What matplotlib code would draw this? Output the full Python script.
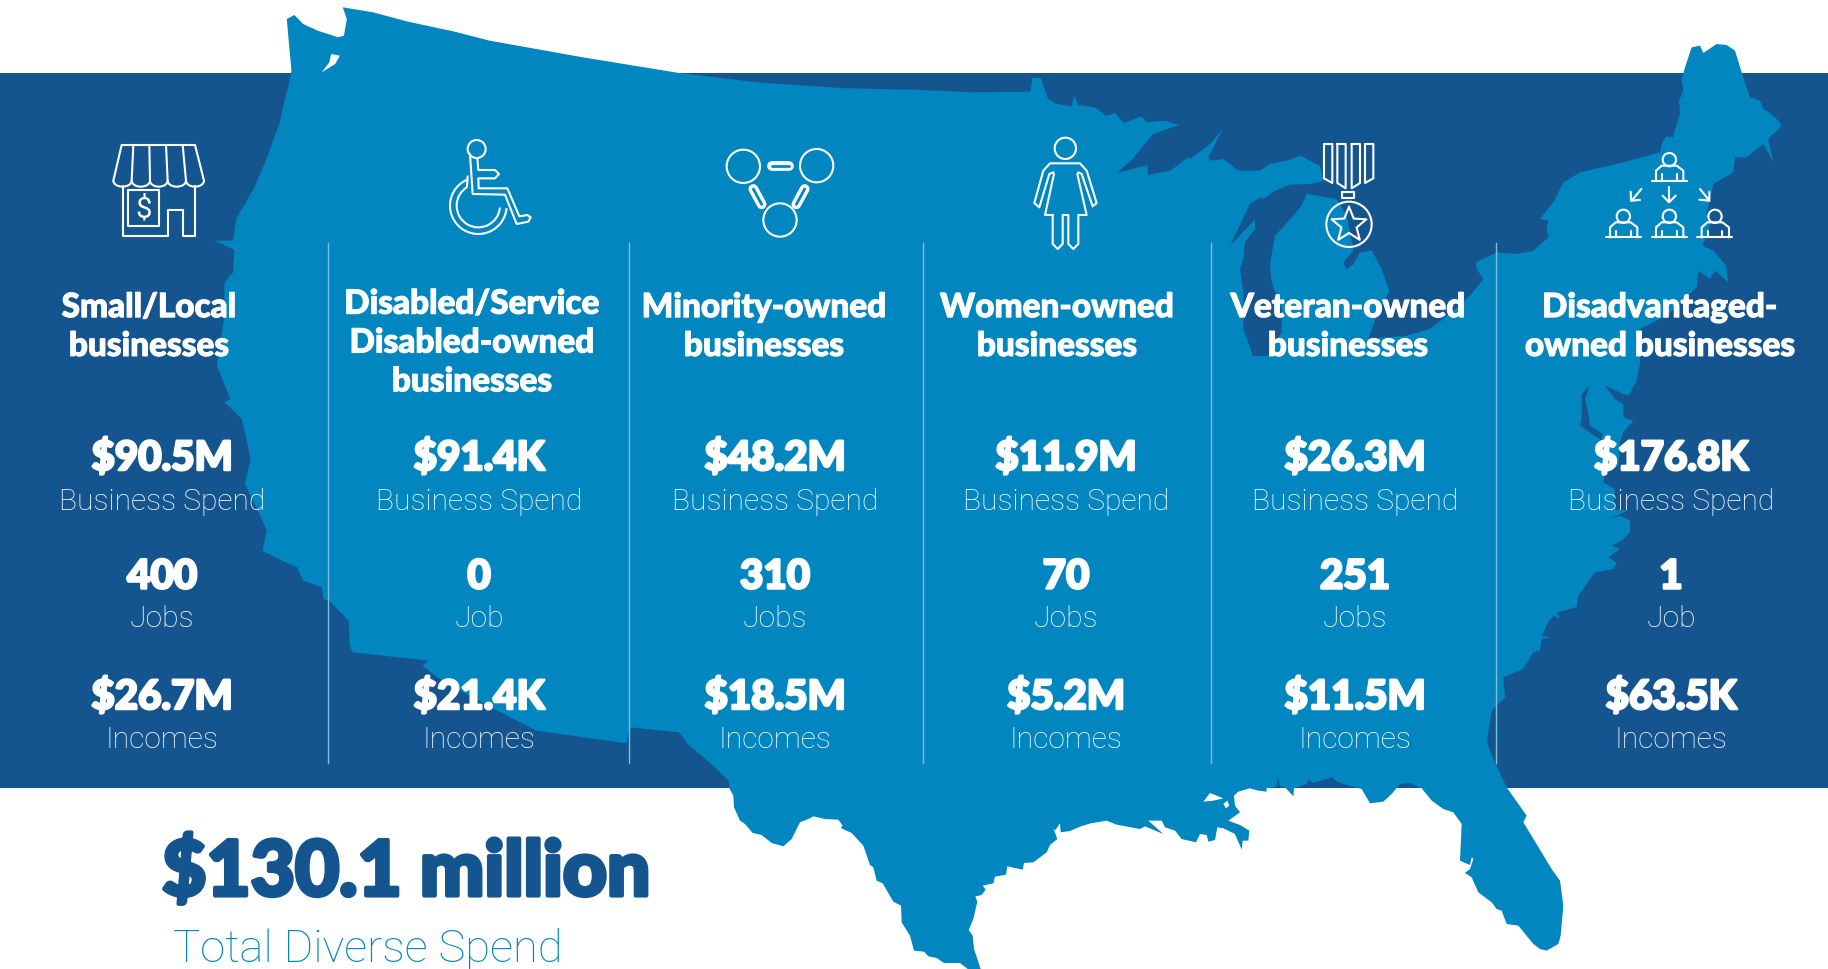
import numpy as np
import matplotlib
matplotlib.use("Agg")
import matplotlib.pyplot as plt
from matplotlib.patches import Circle, Arc, Polygon, Rectangle
import matplotlib.patheffects as pe

# chart values
categories = ["Small/Local\nbusinesses", "Disabled/Service\nDisabled-owned\nbusinesses",
              "Minority-owned\nbusinesses", "Women-owned\nbusinesses",
              "Veteran-owned\nbusinesses", "Disadvantaged-\nowned businesses"]
spend = ["$90.5M", "$91.4K", "$48.2M", "$11.9M", "$26.3M", "$176.8K"]
jobs = ["400", "0", "310", "70", "251", "1"]
job_labels = ["Jobs", "Job", "Jobs", "Jobs", "Jobs", "Job"]
incomes = ["$26.7M", "$21.4K", "$18.5M", "$5.2M", "$11.5M", "$63.5K"]
total = "$130.1 million"
total_label = "Total Diverse Spend"

# layout, in pixels of the 1828x970 picture
num_x = [162, 479, 775, 1066, 1355, 1671]
head_x = [149, 472, 764, 1057, 1348, 1660]
head_y = [328, 344, 328, 328, 328, 328]
divider_x = [328, 629, 923, 1211, 1496]

DARK = "#14558f"
BLUE = "#0286c0"
HEAVY = ["Lato", "DejaVu Sans"]
LIGHT = ["Roboto", "DejaVu Sans"]

west_coast = [(588,25),(595,60),(590,110),(580,115),(545,95),(520,75),(505,48),(492,60),(495,120),
              (500,215),(495,260),(490,290),(480,370),(455,490),(435,570),(405,660),(400,725),(368,725),
              (402,752),(400,820),(385,850),(385,950),(372,1100),(395,1200),(385,1210),(415,1260),
              (420,1300),(430,1380),(420,1455)]
border = [(445,90),(458,140),(450,200),(490,235),(510,250),(520,290),(552,310),(555,345),(565,350),
          (598,410),(600,485),(605,505),(735,530),(725,545),(750,580),(810,640),(870,695),(920,740),
          (1075,778),(1080,730),(1165,745),(1180,780),(1220,840),(1250,890)]
texas = [(88,88),(100,110),(102,145),(120,185),(135,195),(158,222),(185,228),(215,252),(250,262),
         (275,240),(300,190),(330,178),(340,172),(375,180),(415,182),(428,200),(422,207),(455,222),
         (490,260),(510,318),(520,325),(530,365),(548,373),(580,428),(603,440),(605,490),(630,530),
         (642,575),(672,578),(685,592),(710,597),(732,612),(780,612),(803,630),(842,630),(822,570),
         (818,530),(806,513),(820,480),(832,428),(826,412),(845,408),(857,392),(848,380),(880,373),
         (885,353),(918,347),(922,322),(968,332),(972,312),(1000,310),(1040,280),(1050,258),(1072,240),
         (1060,208),(1065,215),(1080,193),(1082,220),(1110,216),(1140,203),(1172,193),(1220,185),
         (1250,197),(1320,210),(1335,202),(1390,225),(1345,185),(1385,185),(1395,205)]
florida = [(15,215),(35,240),(78,250),(90,225),(110,228),(115,248),(135,243),(142,205),(160,208),(195,225),
           (215,272),(218,245),(235,245),(238,215),(210,198),(175,185),(210,160),(195,140),(192,110),(205,98),
           (240,88),(265,95),(290,98),(290,87),(320,85),(322,50),(330,82),(345,85),(370,112),(372,88),(410,75),
           (415,60),(430,72),(485,55),(505,70),(545,82),(575,90),(600,133),(640,128),(665,105),(690,75),(720,72),
           (755,88),(785,125),(820,150),(850,160),(875,195),(870,305),(900,318),(905,295),(910,300),(900,330),
           (885,342),(905,355),(925,400),(965,430),(980,450),(995,455),(1010,495),(1045,500),(1090,555),(1110,570),
           (1130,575),(1165,555),(1172,530),(1180,440),(1170,365),(1145,330),(1060,190),(1070,170),(1010,85),(975,10),
           (950,-50),(965,-145),(1005,-185)]
atlantic = [(70,1015),(130,990),(160,940),(180,935),(185,900),(210,895),(185,890),(205,850),(220,830),(240,840),
            (230,820),(290,805),(295,770),(330,720),(345,700),(400,690),(410,670),(385,655),(420,630),(395,620),
            (425,605),(450,580),(450,545),(420,530),(385,540),(445,515),(400,510),(405,450),(370,430),(375,405),
            (415,380),(420,310),(430,280),(460,245),(430,235),(430,195),(405,180),(375,140),(430,165),(445,170),
            (470,125),(480,70),(480,55)]
new_england = [(470,905),(560,860),(650,775),(655,725),(690,750),(705,725),(745,760),(738,710),(700,665),(668,650),
               (690,590),(680,555),(690,510),(700,465),(760,430),(765,385),(800,385),(850,345),(880,400),(865,330),
               (905,290),(890,270),(865,248),(850,240),(840,215),(810,205),(785,130),(765,65),(740,48),(710,45),
               (670,72),(660,50),(635,55),(615,115),(605,150),(610,185),(597,215),(600,255),(585,300),(580,325),
               (558,322),(545,345),(540,370),(410,405),(300,430),(250,460),(220,520),(180,570),(205,575),(200,600),
               (205,625),(160,665),(110,675),(50,670)]
lakes = [(900,410),(858,430),(860,450),(880,480),(840,530),(790,575),(720,630),(650,650),(535,660),(555,605),
         (598,515),(575,450),(545,395),(510,400),(490,435),(470,452),(460,430),(490,395),(480,340),(470,290),(440,240),
         (350,225),(335,260),(310,290),(255,350),(240,435),(245,490),(275,570),(275,640),(235,710),(190,712),
         (160,630),(160,520),(150,450),(160,420),(165,370),(195,330),(195,302),(120,380),(180,255),(210,235),
         (220,240),(255,215),(300,197),(362,195),(400,185),(390,140),(330,110),(290,125),(240,135),(210,155),
         (145,155),(100,120),(60,125),(55,115),(98,30),(60,75),(35,95),(0,120)]
minnesota = [(470,475),(440,515),(402,528),(400,498),(348,522),(375,480),(410,405),(455,378),(430,365),(400,370),
             (390,352),(360,372),(345,342),(330,350),(310,325),(282,318),(275,290),(270,322),(245,315),(230,300),
             (218,238),(203,235),(200,278),(100,280),(0,272)]
north_border = [(1568,272),(1450,268),(1300,250),(1165,222),(1000,175),(840,125),(780,98),(700,68),(640,40)]
puget = [(568,165),(583,170),(575,195),(552,220),(565,190)]
pontchartrain = [(100,128),(120,102),(160,118),(130,125)]
pond = [(160,135),(172,125),(178,140),(168,148)]
chesapeake = [(330,140),(305,165),(305,240),(300,260),(365,305),(368,285),(330,260),(325,225),(315,180)]


def half(points, x0, y0):
    # crops of 914x485 came back stretched, x and y scale differ
    return [(x0 + x / 1.7155, y0 + y / 3) for x, y in points]


def third(points, x0, y0):
    return [(x0 + x / 3, y0 + y / 3) for x, y in points]


fig = plt.figure(figsize=(18.28, 9.7), dpi=100)
ax = fig.add_axes([0, 0, 1, 1])
ax.set_xlim(0, 1828)
ax.set_ylim(970, 0)
ax.axis("off")

ax.add_patch(Rectangle((0, 74), 1828, 715, color=DARK, lw=0, zorder=1))

outline = (half(west_coast, 0, 0) + half(border, 0, 485) + third(texas, 700, 760) + third(florida, 1170, 760)
           + third(atlantic, 1480, 340) + third(new_england, 1480, 30) + third(lakes, 1190, 120)
           + half(minnesota, 914, 0) + half(north_border, 0, 0))
ax.add_patch(Polygon(outline, closed=True, color=BLUE, lw=0, zorder=2))
ax.add_patch(Polygon(half(puget, 0, 0), closed=True, color="white", lw=0, zorder=3))
ax.add_patch(Polygon(third(pontchartrain, 1170, 760), closed=True, color="white", lw=0, zorder=3))
ax.add_patch(Polygon(third(pond, 1170, 760), closed=True, color="white", lw=0, zorder=3))
ax.add_patch(Polygon(third(chesapeake, 1480, 340), closed=True, color=DARK, lw=0, zorder=3))

for x in divider_x:
    ax.plot([x, x], [244, 764], color="#7fbfdc", lw=1.0, zorder=3)

# icons
LW = 1.5


def stroke(points, x0, y0, closed=False, lw=LW):
    pts = third(points, x0, y0)
    if closed:
        pts = pts + pts[:1]
    xs = [p[0] for p in pts]
    ys = [p[1] for p in pts]
    ax.plot(xs, ys, color="white", lw=lw, solid_joinstyle="round", solid_capstyle="round", zorder=5)


def ring(cx, cy, r, x0, y0):
    ax.add_patch(Circle((x0 + cx / 3, y0 + cy / 3), r / 3, fill=False, ec="white", lw=LW, zorder=5))


def capsule(p, q, x0, y0, back):
    stroke([p, q], x0, y0, lw=7.0)
    pts = third([p, q], x0, y0)
    ax.plot([pts[0][0], pts[1][0]], [pts[0][1], pts[1][1]], color=back, lw=2.0, solid_capstyle="round", zorder=6)


# shop
sx, sy = 100, 130
stroke([(40,155),(65,48),(285,48),(312,155)], sx, sy)
for top, bottom in zip([100, 148, 198, 248], [95, 150, 203, 258]):
    stroke([(top,48),(bottom,155)], sx, sy)
for a, b in zip([40, 95, 150, 203, 258], [95, 150, 203, 258, 312]):
    ax.add_patch(Arc((sx + (a + b) / 6, sy + 155 / 3), (b - a) / 3, 36 / 3, theta1=0, theta2=180,
                     ec="white", lw=LW, zorder=5))
stroke([(68,172),(68,320),(205,320),(205,243),(248,243),(248,320),(285,320),(285,172)], sx, sy)
stroke([(85,182),(178,182),(178,292),(85,292)], sx, sy, closed=True)
ax.text(sx + 130 / 3, sy + 237 / 3, "$", color="white", fontsize=21, family=LIGHT, weight="regular",
        ha="center", va="center", zorder=5)

# wheelchair
stroke([(1110,75),(1118,195),(1215,197),(1250,285),(1285,278),(1292,265),(1282,258),(1258,262),
        (1222,178),(1136,178),(1135,148),(1185,148),(1197,135),(1185,123),(1135,123),(1132,88)], sx, sy)
ring(1130, 60, 27, sx, sy)
wheel_x, wheel_y = sx + 1135 / 3, sy + 230 / 3
ax.add_patch(Arc((wheel_x, wheel_y), 170 / 3, 170 / 3, theta1=5, theta2=248, ec="white", lw=LW, zorder=5))
ax.add_patch(Arc((wheel_x, wheel_y), 130 / 3, 130 / 3, theta1=5, theta2=239, ec="white", lw=LW, zorder=5))
stroke([(1103,142),(1101,172)], sx, sy)

# network
nx, ny = 700, 130
for cx, cy in [(130, 112), (350, 110), (240, 273)]:
    ring(cx, cy, 50, nx, ny)
capsule((215,112), (267,112), nx, ny, BLUE)
capsule((160,180), (185,226), nx, ny, BLUE)
capsule((314,180), (289,226), nx, ny, BLUE)

# woman
ring(1096, 58, 32, nx, ny)
stroke([(1058,258),(1058,345),(1073,360),(1088,345),(1088,258),(1105,258),(1105,345),(1120,360),(1135,345),
        (1135,258),(1160,258),(1132,135),(1135,130),(1145,135),(1178,232),(1190,222),(1160,125),(1140,103),
        (1050,103),(1030,125),(1003,222),(1018,235),(1048,135),(1060,130),(1062,135),(1035,258)], nx, ny, closed=True)

# medal
mx, my = 1300, 130
for strip in [[(72,45),(97,45),(97,162),(72,148)], [(112,45),(137,45),(137,178),(112,162)],
              [(155,45),(180,45),(180,162),(155,178)], [(195,45),(220,45),(220,148),(195,162)]]:
    stroke(strip, mx, my, closed=True)
stroke([(127,188),(162,188),(162,206),(127,206)], mx, my, closed=True)
ring(147, 286, 68, mx, my)
angles = np.deg2rad(np.arange(-90, 270, 36))
radii = np.where(np.arange(10) % 2 == 0, 55, 24)
stroke(list(zip(147 + radii * np.cos(angles), 288 + radii * np.sin(angles))), mx, my, closed=True)

# people
for dx, dy in [(0, 0), (-138, 170), (0, 170), (137, 170)]:
    ring(1108 + dx, 92 + dy, 20, mx, my)
    stroke([(1068+dx,155+dy),(1068+dx,125+dy),(1085+dx,110+dy),(1130+dx,110+dy),(1150+dx,125+dy),(1150+dx,155+dy)], mx, my)
    stroke([(1055+dx,155+dy),(1160+dx,155+dy)], mx, my)
    stroke([(1086+dx,135+dy),(1086+dx,155+dy)], mx, my)
    stroke([(1130+dx,135+dy),(1130+dx,155+dy)], mx, my)
stroke([(1107,175),(1107,220)], mx, my)
stroke([(1088,200),(1107,220),(1127,200)], mx, my)
stroke([(1024,180),(995,215)], mx, my)
stroke([(992,188),(993,215),(1020,213)], mx, my)
stroke([(1200,180),(1228,215)], mx, my)
stroke([(1198,212),(1228,215),(1228,188)], mx, my)


# text
def heavy(x, y, s, size, edge, color="white"):
    ax.text(x, y, s, color=color, fontsize=size, family=HEAVY, weight="black", ha="center", va="center",
            linespacing=1.41, zorder=7,
            path_effects=[pe.withStroke(linewidth=edge, foreground=color)])


def thin(x, y, s, size=21.6, color="white"):
    ax.text(x, y, s, color=color, fontsize=size, family=LIGHT, weight="light", ha="center", va="center", zorder=7)


for i in range(6):
    heavy(head_x[i], head_y[i], categories[i], 24, 0.8)
    heavy(num_x[i], 459, spend[i], 29, 1.8)
    thin(num_x[i], 502, "Business Spend")
    heavy(num_x[i], 578, jobs[i], 29, 1.8)
    thin(num_x[i], 619, job_labels[i])
    heavy(num_x[i], 698, incomes[i], 29, 1.8)
    thin(num_x[i], 740, "Incomes")

heavy(406, 874, total, 55, 3.0, DARK)
thin(368, 950, total_label, 32.7, BLUE)

fig.savefig("out.png", dpi=100)
